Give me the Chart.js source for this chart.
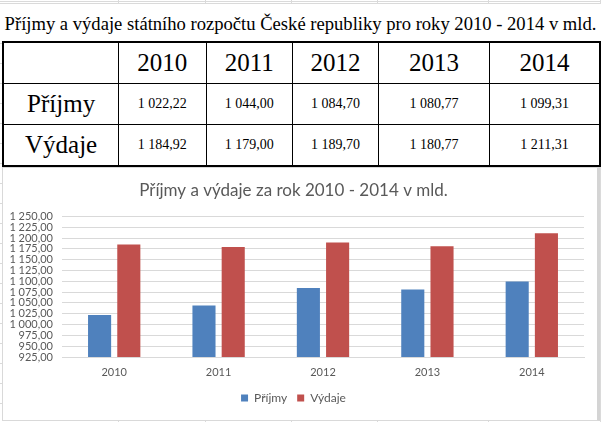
<!DOCTYPE html>
<html>
<head>
<meta charset="utf-8">
<script src="https://cdn.jsdelivr.net/npm/chart.js@4.4.0/dist/chart.umd.min.js"></script>
<style>
  html, body { margin: 0; padding: 0; }
  body {
    width: 601px; height: 422px; position: relative; overflow: hidden;
    background: #fff repeating-linear-gradient(to bottom, #dadada 0, #dadada 1px, transparent 1px, transparent 20px);
    background-position: 0 3px;
  }
  .vline { position: absolute; top: 0; width: 1px; height: 422px; background: #dadada; }
  #title {
    position: absolute; left: 0; top: 4px; width: 601px; height: 37px; background: #fff;
    font-family: "Liberation Serif", "DejaVu Serif", serif; font-size: 18.6px; line-height: 39px; text-align: center; color: #000;
    white-space: nowrap;
  }
  #tbl {
    position: absolute; left: 2px; top: 41px; border-collapse: collapse; background: #fff;
    border: 2px solid #000; color: #000;
  }
  #tbl td {
    border: 1px solid #000; text-align: center; padding: 0; height: 40px;
    font-family: "Liberation Serif", "DejaVu Serif", serif;
  }
  #tbl .big { font-size: 25px; }
  #tbl .num { font-size: 14px; }
  #box {
    position: absolute; left: 2px; top: 167px; width: 594px; height: 252px; background: #fff;
    border: 1px solid #d9d9d9; border-right: 3px solid #d4d4d4;
  }
</style>
</head>
<body>
<div class="vline" style="left:118px"></div>
<div class="vline" style="left:205px"></div>
<div class="vline" style="left:291px"></div>
<div class="vline" style="left:377px"></div>
<div class="vline" style="left:488px"></div>
<div class="vline" style="left:600px"></div>

<div id="title">Příjmy a výdaje státního rozpočtu České republiky pro roky 2010 - 2014 v mld.</div>
<table id="tbl"></table>
<div id="box"><canvas id="myChart" width="594" height="252"></canvas></div>

<script>
"use strict";

/* Data */
const years = ['2010', '2011', '2012', '2013', '2014'];
const prijmy = [1022.22, 1044.00, 1084.70, 1080.77, 1099.31];
const vydaje = [1184.92, 1179.00, 1189.70, 1180.77, 1211.31];
const rowLabels = ['Příjmy', 'Výdaje'];
const colWidths = [115, 87, 86, 86, 111, 110];

// cesky format cisla: 1 022,22
function fmt(v) {
    const parts = v.toFixed(2).split('.');
    parts[0] = parts[0].replace(/\B(?=(\d{3})+(?!\d))/g, ' ');
    return parts.join(',');
}

/* Tabulka */
const tbl = document.getElementById('tbl');
let html = '<tr><td class="big" style="width:' + colWidths[0] + 'px"></td>';
years.forEach(function (y, i) {
    html += '<td class="big" style="width:' + colWidths[i + 1] + 'px">' + y + '</td>';
});
html += '</tr>';
[prijmy, vydaje].forEach(function (row, r) {
    html += '<tr><td class="big">' + rowLabels[r] + '</td>';
    row.forEach(function (v) { html += '<td class="num">' + fmt(v) + '</td>'; });
    html += '</tr>';
});
tbl.innerHTML = html;

/* Graf */
const font = "Lato, 'Open Sans', sans-serif";
const data = {
    labels: years,
    datasets: [{
        label: rowLabels[0],
        data: prijmy,
        backgroundColor: '#4F81BD',
        barPercentage: 0.79,
        categoryPercentage: 0.56
    }, {
        label: rowLabels[1],
        data: vydaje,
        backgroundColor: '#C0504D',
        barPercentage: 0.79,
        categoryPercentage: 0.56
    }]
};

const config = {
    type: 'bar',
    data: data,
    options: {
        responsive: false,
        animation: false,
        layout: { padding: { left: 0, right: 13, top: 0, bottom: 6 } },
        plugins: {
            title: {
                display: true,
                text: 'Příjmy a výdaje za rok 2010 - 2014 v mld.',
                color: '#595959',
                font: { family: font, size: 17, weight: 'normal' },
                padding: { top: 12, bottom: 16 }
            },
            legend: {
                position: 'bottom',
                labels: {
                    boxWidth: 7, boxHeight: 7, color: '#595959',
                    font: { family: font, size: 12 }, padding: 10
                }
            },
            tooltip: { enabled: false }
        },
        scales: {
            x: {
                grid: { display: false, drawTicks: false },
                border: { color: '#D9D9D9' },
                ticks: { color: '#595959', font: { family: font, size: 11 }, padding: 9 },
                afterFit: function (scale) { scale.height = 25; }
            },
            y: {
                min: 925,
                max: 1250,
                border: { display: false },
                grid: { color: '#D9D9D9', drawTicks: false },
                ticks: {
                    stepSize: 25, autoSkip: false, color: '#595959', padding: 9,
                    font: { family: font, size: 11 },
                    callback: function (v) { return fmt(v); }
                },
                afterFit: function (scale) { scale.width = 59; }
            }
        }
    }
};

const myChart = new Chart(document.getElementById('myChart'), config);
</script>
</body>
</html>
